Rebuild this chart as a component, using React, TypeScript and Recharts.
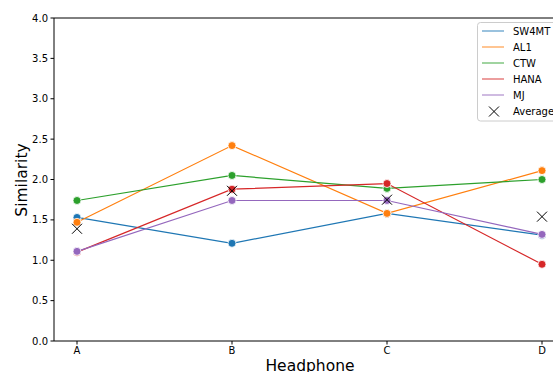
import React from "react";
import { LineChart, Line, XAxis, YAxis, ReferenceLine } from "recharts";

// values
const headphones = ["A", "B", "C", "D"];
const sw4mt = [1.53, 1.21, 1.58, 1.31];
const al1 = [1.47, 2.42, 1.58, 2.11];
const ctw = [1.74, 2.05, 1.89, 2.0];
const hana = [1.1, 1.88, 1.95, 0.95];
const mj = [1.11, 1.74, 1.74, 1.32];
const average = [1.39, 1.86, 1.75, 1.54];
const yTicks = [0, 0.5, 1, 1.5, 2, 2.5, 3, 3.5, 4];

const series = [
  { key: "SW4MT", values: sw4mt, color: "#1f77b4" },
  { key: "AL1", values: al1, color: "#ff7f0e" },
  { key: "CTW", values: ctw, color: "#2ca02c" },
  { key: "HANA", values: hana, color: "#d62728" },
  { key: "MJ", values: mj, color: "#9467bd" },
];

const rows = headphones.map((name, i) => {
  const row: Record<string, string | number> = { name, Average: average[i] };
  series.forEach((s) => (row[s.key] = s.values[i]));
  return row;
});

const font = "DejaVu Sans, sans-serif";

const XMark = (props: any) => {
  const { cx, cy, index } = props;
  const h = 5;
  return (
    <path
      key={`x-${index}`}
      d={`M${cx - h},${cy - h}L${cx + h},${cy + h}M${cx - h},${cy + h}L${cx + h},${cy - h}`}
      stroke="#000"
      strokeWidth={1}
      fill="none"
    />
  );
};

export default function App() {
  return (
    <div style={{ position: "absolute", left: 0, top: 0, width: 553, height: 372, overflow: "hidden", background: "#fff" }}>
      <LineChart width={580} height={372} data={rows} margin={{ top: 18, right: 15, bottom: 0, left: 0 }}>
        <ReferenceLine y={4} stroke="#000" strokeWidth={1} />
        <XAxis
          dataKey="name"
          padding={{ left: 23, right: 23 }}
          height={31}
          tickSize={3.5}
          tickMargin={2.5}
          axisLine={{ stroke: "#000" }}
          tickLine={{ stroke: "#000" }}
          tick={{ fontSize: 10, fill: "#000", fontFamily: font }}
        />
        <YAxis
          domain={[0, 4]}
          ticks={yTicks}
          width={54}
          tickSize={3.5}
          tickMargin={2.5}
          axisLine={{ stroke: "#000" }}
          tickLine={{ stroke: "#000" }}
          tick={{ fontSize: 10, fill: "#000", fontFamily: font }}
          tickFormatter={(v: number) => v.toFixed(1)}
        />
        {series.map((s) => (
          <Line
            key={s.key}
            dataKey={s.key}
            stroke={s.color}
            strokeWidth={1.2}
            dot={{ r: 4, fill: s.color, stroke: "#fff", strokeWidth: 0.8 }}
            activeDot={false}
            isAnimationActive={false}
          />
        ))}
        <Line dataKey="Average" stroke="none" dot={XMark} activeDot={false} isAnimationActive={false} />
      </LineChart>
      <svg width={553} height={372} style={{ position: "absolute", left: 0, top: 0, pointerEvents: "none" }}>
        <text x={22} y={180} transform="rotate(-90 22 180)" textAnchor="middle" dominantBaseline="central" fontSize={15.5} fontFamily={font} fill="#000">
          Similarity
        </text>
        <text x={310} y={371} textAnchor="middle" fontSize={15.5} fontFamily={font} fill="#000">
          Headphone
        </text>
        <rect x={477.5} y={22.5} width={100} height={98.5} rx={3} fill="#fff" fillOpacity={0.8} stroke="#ccc" />
        {series.map((s, i) => (
          <g key={s.key}>
            <line x1={482} x2={504} y1={31 + i * 16} y2={31 + i * 16} stroke={s.color} strokeOpacity={0.75} strokeWidth={1.2} />
            <text x={513} y={31 + i * 16} dominantBaseline="central" fontSize={10} fontFamily={font} fill="#000">
              {s.key}
            </text>
          </g>
        ))}
        <path d="M489,106.5L499,116.5M489,116.5L499,106.5" stroke="#000" strokeWidth={1} />
        <text x={513} y={111.5} dominantBaseline="central" fontSize={10} fontFamily={font} fill="#000">
          Average
        </text>
      </svg>
    </div>
  );
}
